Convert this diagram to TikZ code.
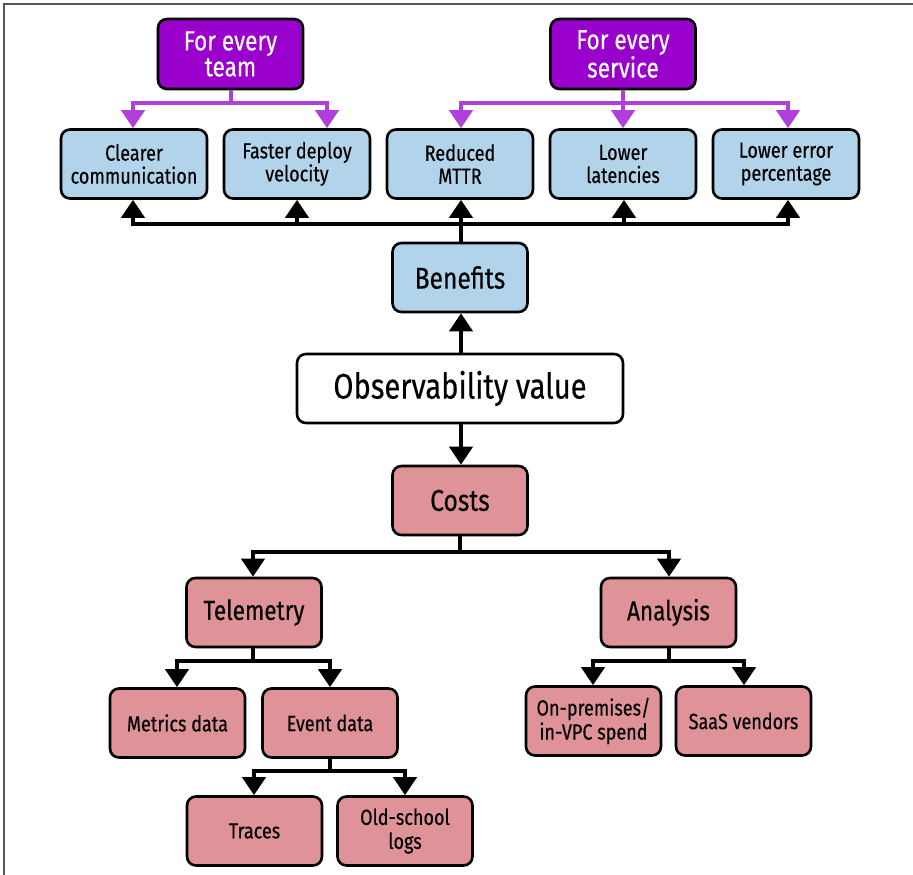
\documentclass[tikz,border=0pt]{standalone}
\usepackage{fontspec}
\setmainfont{Fira Sans}[FakeStretch=0.82,FakeBold=0.35]
\usetikzlibrary{arrows.meta,calc}
\definecolor{benefitblue}{HTML}{B1D4EA}
\definecolor{costpink}{HTML}{DF9297}
\definecolor{scopepurple}{HTML}{9900CC}
\definecolor{scopearrow}{HTML}{B03FDC}
\definecolor{framegray}{HTML}{555555}
\begin{document}
\begin{tikzpicture}[x=1pt,y=-1pt,
  box/.style={draw=black, line width=2.6pt, rounded corners=9pt,
    minimum width=135pt, minimum height=69pt, inner sep=0pt, align=center},
  benefit/.style={box, fill=benefitblue, minimum width=146pt,
    font=\fontsize{22}{23}\selectfont},
  scopebox/.style={box, fill=scopepurple, text=white, minimum width=145pt,
    minimum height=70pt, font=\fontsize{27.5}{26}\selectfont},
  cost/.style={box, fill=costpink, font=\fontsize{22}{24}\selectfont},
  headbox/.style={box, font=\fontsize{30}{30}\selectfont},
  blackarrow/.style={line width=4pt, -{Triangle[width=23pt,length=18pt]}},
  blackline/.style={line width=4pt},
  purplearrow/.style={draw=scopearrow, line width=4pt,
    -{Triangle[width=23pt,length=18pt]}},
  purpleline/.style={draw=scopearrow, line width=4pt},
  frameline/.style={draw=framegray, line width=1.8pt}
]
\useasboundingbox (0,0) rectangle (913,875);
\fill[white] (0,0) rectangle (913,875);
\draw[frameline] (4,875) -- (4,4) -- (913,4);

% scope boxes
\node[scopebox] (team) at (230.5,54) {For every\\team};
\node[scopebox] (service) at (623,54) {For every\\service};

% benefit boxes
\node[benefit] (clear)   at (134,164) {Clearer\\communication};
\node[benefit] (faster)  at (297,164) {Faster deploy\\velocity};
\node[benefit] (mttr)    at (460,164) {Reduced\\MTTR};
\node[benefit] (latency) at (623,164) {Lower\\latencies};
\node[benefit] (errors)  at (786,164) {Lower error\\percentage};

% centre column
\node[headbox, fill=benefitblue] (benefits) at (460,277.5) {Benefits};
\node[headbox, fill=white, minimum width=326pt,
      font=\fontsize{35.5}{36}\selectfont] (value) at (460,388.5) {Observability value};
\node[headbox, fill=costpink] (costs) at (460,500.5) {Costs};

% cost tree
\node[cost, font=\fontsize{27.5}{28}\selectfont] (telemetry) at (254,612.5) {Telemetry};
\node[cost, font=\fontsize{27.5}{28}\selectfont] (analysis)  at (668.5,612.5) {Analysis};
\node[cost] (metrics) at (177.5,723) {Metrics data};
\node[cost] (events)  at (330,723) {Event data};
\node[cost] (traces)  at (254.5,831) {Traces};
\node[cost] (logs)    at (405,831) {Old-school\\logs};
\node[cost] (onprem)  at (593.5,721) {On-premises/\\in-VPC spend};
\node[cost] (saas)    at (743.5,721) {SaaS vendors};

% junction points of the connectors
\coordinate (tj) at (231,103);
\coordinate (sj) at (623,103);
\coordinate (bj) at (461,224);
\coordinate (cj) at (460,552);
\coordinate (telj) at (253,661);
\coordinate (anj) at (669,661);
\coordinate (evj) at (330,771);

% scope connectors
\draw[purpleline] (team.south -| tj) -- (tj);
\draw[purplearrow] (tj) -| (clear.north -| 133,0);
\draw[purplearrow] (tj) -| (faster.north -| 327,0);
\draw[purpleline] (service.south) -- (sj);
\draw[purplearrow] (sj) -| (mttr.north -| 461,0);
\draw[purplearrow] (sj) -- (latency.north);
\draw[purplearrow] (sj) -| (errors.north -| 788,0);

% benefit connectors
\draw[blackline] (benefits.north -| bj) -- (bj);
\draw[blackarrow] (bj) -| (clear.south -| 133,0);
\draw[blackarrow] (bj) -| (faster.south);
\draw[blackarrow] (bj) -- (mttr.south -| bj);
\draw[blackarrow] (bj) -| (latency.south -| 624,0);
\draw[blackarrow] (bj) -| (errors.south -| 788,0);

% centre column connectors
\draw[blackarrow] (value.north -| bj) -- (benefits.south -| bj);
\draw[blackarrow] (value.south -| bj) -- (costs.north -| bj);

% cost connectors
\draw[blackline] (costs.south) -- (cj);
\draw[blackarrow] (cj) -| (telemetry.north -| telj);
\draw[blackarrow] (cj) -| (analysis.north -| anj);
\draw[blackline] (telemetry.south -| telj) -- (telj);
\draw[blackarrow] (telj) -| (metrics.north -| 177,0);
\draw[blackarrow] (telj) -| (events.north);
\draw[blackline] (events.south) -- (evj);
\draw[blackarrow] (evj) -| (traces.north -| 254,0);
\draw[blackarrow] (evj) -| (logs.north);
\draw[blackline] (analysis.south -| anj) -- (anj);
\draw[blackarrow] (anj) -| (onprem.north -| 593,0);
\draw[blackarrow] (anj) -| (saas.north -| 744,0);
\end{tikzpicture}
\end{document}
